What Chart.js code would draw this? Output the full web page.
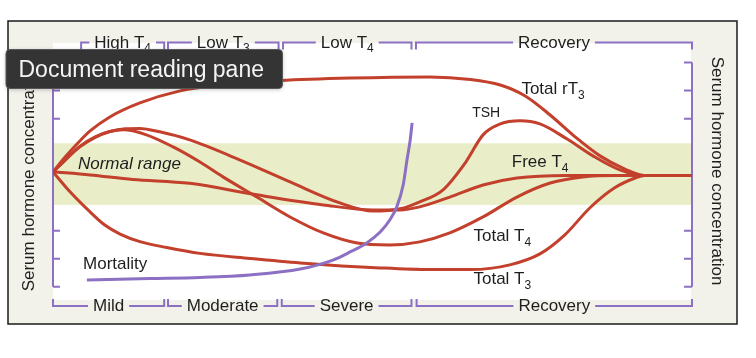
<!DOCTYPE html>
<html><head><meta charset="utf-8">
<script src="https://cdn.jsdelivr.net/npm/chart.js@4/dist/chart.umd.min.js"></script>
<style>html,body{margin:0;padding:0;background:#fff;overflow:hidden}canvas{display:block}</style>
</head><body>
<canvas id="c" width="756" height="358"></canvas>
<script>
// ---- Data (x: course of illness 0-100, y: serum hormone concentration, arbitrary units; normal = 4) ----
const RT3_X = [0, 1.9, 3.9, 5.8, 8.9, 13.6, 19.9, 26.1, 35.5, 46.5, 59, 65.3, 70, 73.9, 77.8, 81.7, 85.6, 89.5, 92.6, 100];
const RT3_Y = [4.1, 4.63, 5.13, 5.56, 6.06, 6.56, 6.99, 7.20, 7.36, 7.45, 7.49, 7.40, 7.20, 6.81, 6.13, 5.35, 4.67, 4.2, 3.97, 3.97];

const TSH_X = [0, 1.9, 4.2, 6.6, 8.9, 11.3, 13.6, 16.7, 21.4, 29.3, 37.1, 44.9, 50.1, 54.3, 57.4, 61, 64.6, 67.3, 70, 73.1, 76.2, 80.4, 84.5, 88.7, 92.6, 100];
const TSH_Y = [4.1, 4.52, 4.99, 5.33, 5.54, 5.64, 5.65, 5.53, 5.24, 4.52, 3.74, 2.99, 2.70, 2.78, 3.03, 3.45, 4.45, 5.42, 5.81, 5.92, 5.81, 5.28, 4.67, 4.17, 3.97, 3.97];

const FT4_X = [0, 5.8, 12.5, 21.4, 31.9, 42.3, 50.1, 54.3, 57.4, 62.1, 67.3, 72.6, 80.4, 92.6, 100];
const FT4_Y = [4.1, 3.99, 3.83, 3.69, 3.28, 2.92, 2.74, 2.74, 2.85, 3.2, 3.63, 3.88, 3.97, 3.97, 3.97];

const TT4_X = [0, 1.9, 4.2, 6.6, 8.9, 11, 14.4, 18.8, 23, 26.6, 31.9, 37.1, 42.3, 47.6, 52.7, 57.4, 62.1, 67.3, 72.6, 77.8, 82.9, 88.3, 92.6, 100];
const TT4_Y = [4.1, 4.52, 5.01, 5.35, 5.54, 5.6, 5.44, 4.99, 4.45, 3.92, 3.2, 2.49, 1.92, 1.56, 1.49, 1.6, 1.92, 2.49, 3.2, 3.7, 3.92, 3.97, 3.97, 3.97];

const TT3_X = [0, 2.7, 5.8, 8.1, 10.5, 13.6, 17.8, 23, 30.8, 38.7, 51.2, 59, 65.3, 71.5, 76.2, 80.1, 84, 87.9, 91.1, 92.6, 100];
const TT3_Y = [4.1, 3.38, 2.67, 2.2, 1.88, 1.61, 1.4, 1.19, 1.01, 0.85, 0.67, 0.61, 0.61, 0.78, 1.17, 1.85, 2.81, 3.53, 3.88, 3.97, 3.97];

const MORT_X = [5.3, 15.2, 23, 30.8, 38.7, 43.8, 46.5, 49.1, 51.2, 52.7, 53.8, 54.8, 55.4, 55.9, 56.2];
const MORT_Y = [0.24, 0.29, 0.33, 0.42, 0.63, 0.95, 1.24, 1.56, 1.95, 2.38, 2.85, 3.63, 4.53, 5.24, 5.85];

const NORMAL_RANGE = [2.92, 5.12];
const AXIS_TICKS = [0, 1, 2, 3, 4, 5, 6, 7, 8];

const TOP_PHASES = ['High T_4', 'Low T_3', 'Low T_4', 'Recovery'];
const TOP_START  = [4.4, 18, 36, 56.8];
const TOP_END    = [17.4, 35.3, 56.1, 100];
const BOTTOM_PHASES = ['Mild', 'Moderate', 'Severe', 'Recovery'];
const BOTTOM_START  = [0, 18, 35.8, 56.9];
const BOTTOM_END    = [17.4, 35.1, 56.1, 100];

const CURVE_LABELS = ['Total rT_3', 'TSH', 'Free T_4', 'Total T_4', 'Total T_3', 'Mortality', 'Normal range'];
const CURVE_LABEL_X = [73.3, 65.6, 71.8, 65.8, 65.8, 4.7, 3.9];
const CURVE_LABEL_Y = [7.09, 6.22, 4.49, 1.85, 0.31, 0.84, 4.42];

const Y_TITLE = 'Serum hormone concentration';
const OVERLAY_TEXT = 'Document reading pane';

// ---- styles ----
const RED = '#c2402c';
const PURPLE = '#8c70c3';
const FONT = "'Liberation Sans', Arial, Helvetica, sans-serif";

function pts(xs, ys) { return xs.map((x, i) => ({ x: x, y: ys[i] })); }

function parseRich(s) {
  const parts = []; let buf = '';
  for (let i = 0; i < s.length; i++) {
    if (s[i] === '_') { if (buf) parts.push({ t: buf, sub: false }); buf = ''; parts.push({ t: s[i + 1], sub: true }); i++; }
    else buf += s[i];
  }
  if (buf) parts.push({ t: buf, sub: false });
  return parts;
}
function fontFor(size, italic) { return (italic ? 'italic ' : '') + size + 'px ' + FONT; }
function richWidth(ctx, s, size, italic) {
  let w = 0;
  for (const p of parseRich(s)) { ctx.font = fontFor(p.sub ? Math.round(size * 0.72) : size, italic); w += ctx.measureText(p.t).width; }
  return w;
}
function drawRich(ctx, s, x, yc, size, align, italic, color) {
  const w = richWidth(ctx, s, size, italic);
  let cx = align === 'center' ? x - w / 2 : (align === 'right' ? x - w : x);
  const left = cx;
  const base = yc + size * 0.358;
  ctx.fillStyle = color || '#1e1e1e';
  ctx.textAlign = 'left'; ctx.textBaseline = 'alphabetic';
  for (const p of parseRich(s)) {
    const sz = p.sub ? Math.round(size * 0.72) : size;
    ctx.font = fontFor(sz, italic);
    ctx.fillText(p.t, cx, p.sub ? base + size * 0.28 : base);
    cx += ctx.measureText(p.t).width;
  }
  return [left, cx];
}

function drawBrackets(ctx, xs, names, starts, ends, yLine, tickDir) {
  ctx.save();
  for (let i = 0; i < names.length; i++) {
    const x0 = xs.getPixelForValue(starts[i]);
    const x1 = xs.getPixelForValue(ends[i]);
    const mid = (x0 + x1) / 2;
    const [l, r] = drawRich(ctx, names[i], mid, yLine - 1, 17, 'center', false);
    ctx.strokeStyle = PURPLE; ctx.lineWidth = 2; ctx.lineCap = 'butt';
    ctx.beginPath();
    ctx.moveTo(x0, yLine + tickDir * 7); ctx.lineTo(x0, yLine); ctx.lineTo(l - 5, yLine);
    ctx.moveTo(r + 5, yLine); ctx.lineTo(x1, yLine); ctx.lineTo(x1, yLine + tickDir * 7);
    ctx.stroke();
  }
  ctx.restore();
}

const decor = {
  id: 'decor',
  beforeDraw(chart) {
    const ctx = chart.ctx, a = chart.chartArea, xs = chart.scales.x, ys = chart.scales.y;
    ctx.save();
    ctx.fillStyle = '#ffffff'; ctx.fillRect(0, 0, chart.width, chart.height);
    ctx.fillStyle = '#f2f1ea'; ctx.fillRect(8, 21, 729, 303);
    ctx.strokeStyle = '#1a1a1a'; ctx.lineWidth = 1.5; ctx.strokeRect(8, 21, 729, 303);
    ctx.fillStyle = '#ffffff'; ctx.fillRect(a.left, a.top, a.right - a.left - 1, a.bottom - a.top);
    const xl = xs.getPixelForValue(0), xr = xs.getPixelForValue(100);
    const yTop = ys.getPixelForValue(AXIS_TICKS[AXIS_TICKS.length - 1]), yBot = ys.getPixelForValue(AXIS_TICKS[0]);
    ctx.strokeStyle = PURPLE; ctx.lineWidth = 2;
    ctx.beginPath();
    for (const t of AXIS_TICKS) {
      const y = ys.getPixelForValue(t);
      ctx.moveTo(xl, y); ctx.lineTo(xl + 7, y);
      ctx.moveTo(xr, y); ctx.lineTo(xr - 8, y);
    }
    ctx.stroke();
    const b0 = ys.getPixelForValue(NORMAL_RANGE[1]), b1 = ys.getPixelForValue(NORMAL_RANGE[0]);
    ctx.fillStyle = '#e9eec8'; ctx.fillRect(xl + 1, b0, xr - xl - 2, b1 - b0);
    ctx.beginPath();
    ctx.moveTo(xl, yTop); ctx.lineTo(xl, yBot);
    ctx.moveTo(xr, yTop); ctx.lineTo(xr, yBot);
    ctx.stroke();
    drawBrackets(ctx, xs, TOP_PHASES, TOP_START, TOP_END, 42.5, 1);
    drawBrackets(ctx, xs, BOTTOM_PHASES, BOTTOM_START, BOTTOM_END, 306, -1);
    ctx.fillStyle = '#1e1e1e'; ctx.font = '17px ' + FONT; ctx.textAlign = 'center'; ctx.textBaseline = 'middle';
    ctx.save(); ctx.translate(29.5, 177); ctx.rotate(-Math.PI / 2); ctx.fillText(Y_TITLE, 0, 0); ctx.restore();
    ctx.save(); ctx.translate(717, 171); ctx.rotate(Math.PI / 2); ctx.fillText(Y_TITLE, 0, 0); ctx.restore();
    ctx.restore();
  },
  afterDraw(chart) {
    const ctx = chart.ctx, xs = chart.scales.x, ys = chart.scales.y;
    ctx.save();
    for (let i = 0; i < CURVE_LABELS.length; i++) {
      const size = CURVE_LABELS[i] === 'TSH' ? 14 : 17;
      const italic = CURVE_LABELS[i] === 'Normal range';
      drawRich(ctx, CURVE_LABELS[i], xs.getPixelForValue(CURVE_LABEL_X[i]), ys.getPixelForValue(CURVE_LABEL_Y[i]), size, 'left', italic);
    }
    ctx.shadowColor = 'rgba(0,0,0,0.25)'; ctx.shadowBlur = 4; ctx.shadowOffsetY = 1;
    ctx.fillStyle = '#343434';
    ctx.beginPath(); ctx.roundRect(6, 49.5, 276.5, 39, 4); ctx.fill();
    ctx.shadowColor = 'transparent';
    ctx.strokeStyle = '#575757'; ctx.lineWidth = 1; ctx.stroke();
    ctx.fillStyle = '#f4f4f4'; ctx.font = '23px ' + FONT; ctx.textAlign = 'left'; ctx.textBaseline = 'alphabetic';
    ctx.fillText(OVERLAY_TEXT, 18.5, 76.5);
    ctx.restore();
  }
};

const lineDs = (label, xs, ys, color, w) => ({
  label, data: pts(xs, ys), borderColor: color, borderWidth: w, pointRadius: 0,
  fill: false, cubicInterpolationMode: 'monotone', tension: 0.4
});

new Chart(document.getElementById('c'), {
  type: 'line',
  data: {
    datasets: [
      lineDs('Mortality', MORT_X, MORT_Y, PURPLE, 3),
      lineDs('Total rT3', RT3_X, RT3_Y, RED, 3),
      lineDs('TSH', TSH_X, TSH_Y, RED, 3),
      lineDs('Free T4', FT4_X, FT4_Y, RED, 3),
      lineDs('Total T4', TT4_X, TT4_Y, RED, 3),
      lineDs('Total T3', TT3_X, TT3_Y, RED, 3)
    ]
  },
  options: {
    responsive: false, animation: false, devicePixelRatio: 1,
    layout: { padding: { left: 53, right: 64, top: 43, bottom: 58 } },
    scales: {
      x: { type: 'linear', min: 0, max: 100, display: false },
      y: { type: 'linear', min: -0.475, max: 8.7, display: false }
    },
    plugins: { legend: { display: false }, tooltip: { enabled: false } }
  },
  plugins: [decor]
});
</script>
</body></html>
